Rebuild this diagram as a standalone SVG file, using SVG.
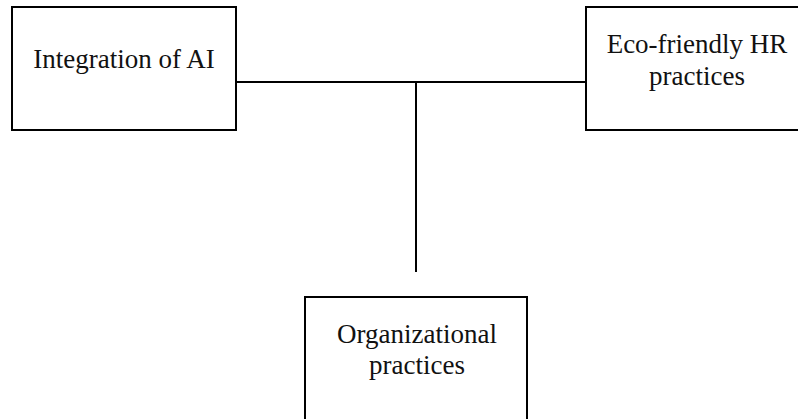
<svg xmlns="http://www.w3.org/2000/svg" width="798" height="419" viewBox="0 0 798 419">
<style>
.box{fill:#fff;stroke:#000;stroke-width:2}
.lbl{font-family:"Liberation Serif","Times New Roman",serif;font-size:27px;fill:#111;text-anchor:middle}
.conn{stroke:#000;stroke-width:2;fill:none}
</style>
<rect width="798" height="419" fill="#fff"/>
<g id="connectors">
<line class="conn" x1="236" y1="82" x2="586" y2="82"/>
<line class="conn" x1="416" y1="82" x2="416" y2="272"/>
</g>
<g id="node-ai">
<rect class="box" x="12" y="7" width="224" height="123"/>
<text class="lbl" x="124" y="68">Integration of AI</text>
</g>
<g id="node-eco">
<rect class="box" x="586" y="7" width="220" height="123"/>
<text class="lbl" x="697" y="53">Eco-friendly HR</text>
<text class="lbl" x="697" y="85">practices</text>
</g>
<g id="node-org">
<rect class="box" x="305" y="297" width="222" height="130"/>
<text class="lbl" x="417" y="343">Organizational</text>
<text class="lbl" x="417" y="374">practices</text>
</g>
</svg>
